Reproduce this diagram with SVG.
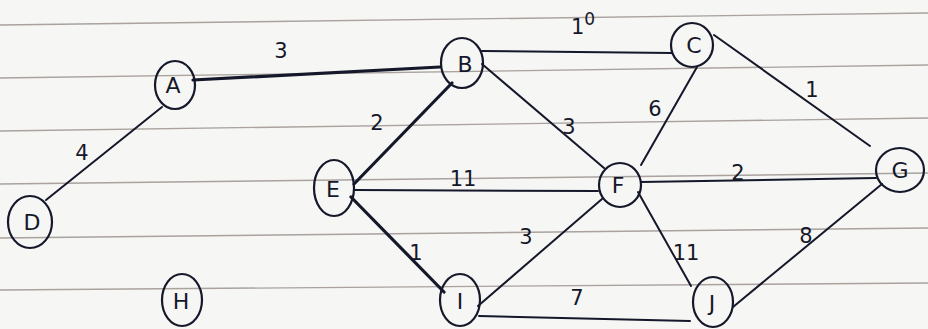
<svg xmlns="http://www.w3.org/2000/svg" width="928" height="329" viewBox="0 0 928 329">
<style>
.paper{fill:#f6f6f4}
.rule{stroke:#8f8580;stroke-width:1.4;fill:none;opacity:.75}
.edge{stroke:#15182a;stroke-width:2;fill:none;stroke-linecap:round}
.thick{stroke-width:3.2}
.node{fill:none;stroke:#15182a;stroke-width:2.2}
.lbl{font-family:"DejaVu Sans","Liberation Sans",sans-serif;font-size:22px;fill:#15182a;text-anchor:middle}
.w{font-family:"DejaVu Sans","Liberation Sans",sans-serif;font-size:21px;fill:#15182a;text-anchor:middle}
</style>
<rect class="paper" x="0" y="0" width="928" height="329"/>
<g id="rules">
<line class="rule" x1="0" y1="25" x2="928" y2="13"/>
<line class="rule" x1="0" y1="78" x2="928" y2="65"/>
<line class="rule" x1="0" y1="131" x2="928" y2="118"/>
<line class="rule" x1="0" y1="184" x2="928" y2="173"/>
<line class="rule" x1="0" y1="238" x2="928" y2="228"/>
<line class="rule" x1="0" y1="290" x2="928" y2="283"/>
</g>
<g id="connectors">
<path class="edge thick" d="M193 80 L440 67"/>
<path class="edge" d="M162 107 L46 200"/>
<path class="edge thick" d="M452 83 L354 184"/>
<path class="edge" d="M482 51 L672 53"/>
<path class="edge" d="M482 64 L604 168"/>
<path class="edge" d="M697 67 L641 165"/>
<path class="edge" d="M714 35 L870 146"/>
<path class="edge" d="M355 190 L598 191"/>
<path class="edge" d="M641 182 L876 178"/>
<path class="edge thick" d="M351 197 L444 292"/>
<path class="edge" d="M478 306 L602 199"/>
<path class="edge" d="M638 192 L691 286"/>
<path class="edge" d="M479 316 L690 321"/>
<path class="edge" d="M733 307 L882 184"/>
</g>
<g id="edge-labels">
<text class="w" x="281" y="58">3</text>
<text class="w" x="82" y="160">4</text>
<text class="w" x="377" y="130">2</text>
<text class="w" x="583" y="34">1<tspan font-size="17" dy="-9">0</tspan></text>
<text class="w" x="569" y="134">3</text>
<text class="w" x="655" y="116">6</text>
<text class="w" x="812" y="97">1</text>
<text class="w" x="463" y="186">11</text>
<text class="w" x="738" y="180">2</text>
<text class="w" x="416" y="260">1</text>
<text class="w" x="526" y="244">3</text>
<text class="w" x="686" y="260">11</text>
<text class="w" x="577" y="305">7</text>
<text class="w" x="806" y="243">8</text>
</g>
<g id="node-A"><ellipse class="node" cx="175" cy="85" rx="20" ry="24"/><text class="lbl" x="173" y="93">A</text></g>
<g id="node-B"><ellipse class="node" cx="462" cy="63" rx="21" ry="25"/><text class="lbl" x="465" y="72">B</text></g>
<g id="node-C"><ellipse class="node" cx="692" cy="45" rx="21" ry="22"/><text class="lbl" x="694" y="53">C</text></g>
<g id="node-D"><ellipse class="node" cx="30" cy="222" rx="22" ry="26"/><text class="lbl" x="32" y="230">D</text></g>
<g id="node-E"><ellipse class="node" cx="334" cy="188" rx="20" ry="28"/><text class="lbl" x="333" y="197">E</text></g>
<g id="node-F"><ellipse class="node" cx="620" cy="185" rx="21" ry="22"/><text class="lbl" x="618" y="193">F</text></g>
<g id="node-G"><ellipse class="node" cx="900" cy="170" rx="24" ry="22"/><text class="lbl" x="900" y="178">G</text></g>
<g id="node-H"><ellipse class="node" cx="182" cy="300" rx="20" ry="26"/><text class="lbl" x="181" y="309">H</text></g>
<g id="node-I"><ellipse class="node" cx="460" cy="300" rx="20" ry="26"/><text class="lbl" x="460" y="309">I</text></g>
<g id="node-J"><ellipse class="node" cx="713" cy="302" rx="20" ry="25"/><text class="lbl" x="712" y="311">J</text></g>
</svg>
